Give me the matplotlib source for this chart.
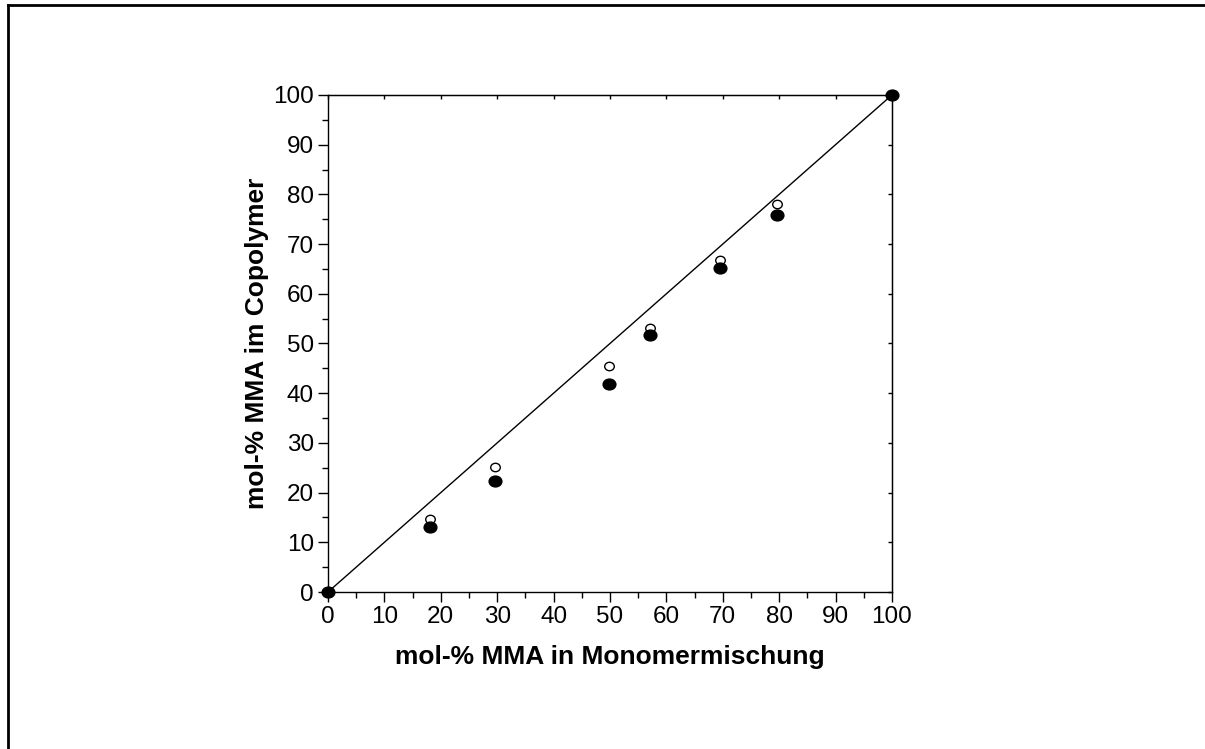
import matplotlib.pyplot as plt
import numpy as np
from matplotlib.path import Path
from matplotlib.lines import Line2D

plt.rcParams['font.family'] = ['Liberation Sans', 'DejaVu Sans']

# mol-% MMA in der Monomermischung
monomer = [0, 18.0, 29.6, 49.9, 57.1, 69.5, 79.7, 100]
# mol-% MMA im Copolymer (zwei Messreihen)
copoly_filled = [0, 13.0, 22.3, 41.9, 51.8, 65.1, 75.8, 100]
copoly_open = [0, 14.7, 25.2, 45.4, 53.1, 66.7, 78.0, 100]
diagonal = [0, 100]

circ = Path.unit_circle()
ell_filled = Path(circ.vertices * np.array([1.0, 0.85]), circ.codes)
ell_open = Path(circ.vertices * np.array([1.0, 0.88]), circ.codes)

fig = plt.figure(figsize=(12.05, 7.49), dpi=100)
ax = fig.add_axes([0.2722, 0.2096, 0.468, 0.6636])

ax.plot(diagonal, diagonal, '-k', lw=1.0)
ax.plot(monomer, copoly_open, linestyle='none', marker=ell_open, ms=6.9,
        mfc='white', mec='black', mew=1.0, clip_on=False, zorder=3)
ax.plot(monomer, copoly_filled, linestyle='none', marker=ell_filled, ms=9.2,
        mfc='black', mec='black', clip_on=False, zorder=4)

ax.set_xlim(0, 100)
ax.set_ylim(0, 100)
ax.set_xticks(np.arange(0, 101, 10))
ax.set_yticks(np.arange(0, 101, 10))
ax.set_xticks(np.arange(5, 100, 10), minor=True)
ax.set_yticks(np.arange(5, 100, 10), minor=True)
ax.tick_params(which='major', direction='out', length=7, width=1, labelsize=17.5, pad=3)
ax.tick_params(which='minor', direction='out', length=4, width=1)

for s in ax.spines.values():
    s.set_linewidth(1.0)

# kleine Innenstriche oben und rechts
top = ax.secondary_xaxis('top')
top.set_xticks(np.arange(0, 101, 10))
top.tick_params(direction='in', length=3, width=1, labeltop=False)
right = ax.secondary_yaxis('right')
right.set_yticks(np.arange(0, 101, 10))
right.tick_params(direction='in', length=3, width=1, labelright=False)

ax.set_xlabel("mol-% MMA in Monomermischung", fontsize=19, fontweight='bold', labelpad=12)
ax.set_ylabel("mol-% MMA im Copolymer", fontsize=19, fontweight='bold', labelpad=3)

# Rahmen (nur oben und links sichtbar)
fig.add_artist(Line2D([0.0065, 1.0], [1 - 5 / 749, 1 - 5 / 749], color='black', lw=2,
                      transform=fig.transFigure))
fig.add_artist(Line2D([0.0065, 0.0065], [0.0, 1 - 5 / 749], color='black', lw=2,
                      transform=fig.transFigure))

fig.savefig("out.png", dpi=100)
